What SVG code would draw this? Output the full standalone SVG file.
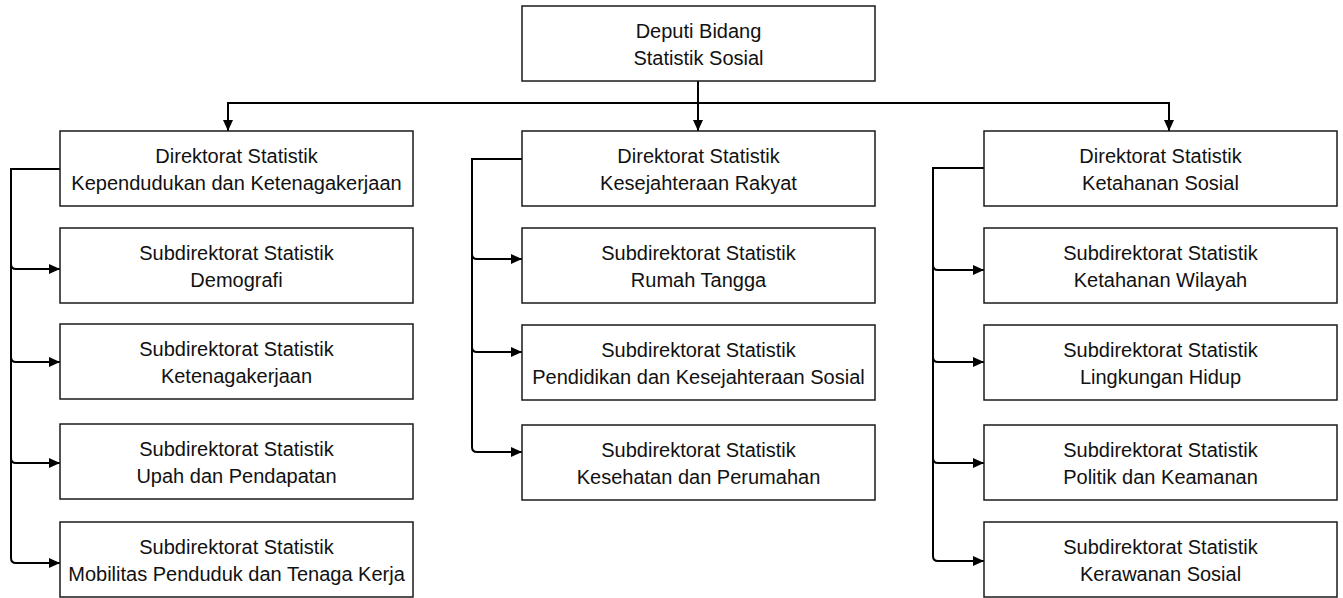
<svg xmlns="http://www.w3.org/2000/svg" width="1343" height="598" viewBox="0 0 1343 598">
<defs>
<style>
.box{fill:#fff;stroke:#1a1a1a;stroke-width:1.5}
.t{font-family:"Liberation Sans",Arial,sans-serif;font-size:20px;fill:#111;text-anchor:middle}
.c{fill:none;stroke:#000;stroke-width:2}
</style>
<marker id="ah" markerUnits="userSpaceOnUse" markerWidth="12" markerHeight="11" refX="11" refY="5" orient="auto">
<path d="M0,0 L11,5 L0,10 Z" fill="#000"/>
</marker>
</defs>
<rect width="1343" height="598" fill="#fff"/>
<g id="connectors">
<path class="c" d="M698,81 V131" marker-end="url(#ah)"/>
<path class="c" d="M228,131 V103 H1169 V131" marker-end="url(#ah)"/>
<path class="c" d="M228,103 V131" marker-end="url(#ah)"/>
<path class="c" d="M60,169 H11 V558 Q11,563 16,563 H60" marker-end="url(#ah)"/>
<path class="c" d="M11,264 Q11,269 16,269 H60" marker-end="url(#ah)"/>
<path class="c" d="M11,357 Q11,362 16,362 H60" marker-end="url(#ah)"/>
<path class="c" d="M11,458 Q11,463 16,463 H60" marker-end="url(#ah)"/>
<path class="c" d="M522,159 H472 V447 Q472,452 477,452 H522" marker-end="url(#ah)"/>
<path class="c" d="M472,254 Q472,259 477,259 H522" marker-end="url(#ah)"/>
<path class="c" d="M472,347 Q472,352 477,352 H522" marker-end="url(#ah)"/>
<path class="c" d="M984,168 H933 V556 Q933,561 938,561 H984" marker-end="url(#ah)"/>
<path class="c" d="M933,265 Q933,270 938,270 H984" marker-end="url(#ah)"/>
<path class="c" d="M933,357 Q933,362 938,362 H984" marker-end="url(#ah)"/>
<path class="c" d="M933,458 Q933,463 938,463 H984" marker-end="url(#ah)"/>
</g>
<g id="deputi"><rect class="box" x="522" y="6" width="353" height="75"/><text class="t" x="698.5" y="38">Deputi Bidang</text><text class="t" x="698.5" y="65">Statistik Sosial</text></g>
<g id="dir-kependudukan"><rect class="box" x="60" y="131" width="353" height="75"/><text class="t" x="236.5" y="163">Direktorat Statistik</text><text class="t" x="236.5" y="190">Kependudukan dan Ketenagakerjaan</text></g>
<g id="sub-demografi"><rect class="box" x="60" y="228" width="353" height="75"/><text class="t" x="236.5" y="260">Subdirektorat Statistik</text><text class="t" x="236.5" y="287">Demografi</text></g>
<g id="sub-ketenagakerjaan"><rect class="box" x="60" y="324" width="353" height="75"/><text class="t" x="236.5" y="356">Subdirektorat Statistik</text><text class="t" x="236.5" y="383">Ketenagakerjaan</text></g>
<g id="sub-upah"><rect class="box" x="60" y="424" width="353" height="75"/><text class="t" x="236.5" y="456">Subdirektorat Statistik</text><text class="t" x="236.5" y="483">Upah dan Pendapatan</text></g>
<g id="sub-mobilitas"><rect class="box" x="60" y="522" width="353" height="75"/><text class="t" x="236.5" y="554">Subdirektorat Statistik</text><text class="t" x="236.5" y="581">Mobilitas Penduduk dan Tenaga Kerja</text></g>
<g id="dir-kesra"><rect class="box" x="522" y="131" width="353" height="75"/><text class="t" x="698.5" y="163">Direktorat Statistik</text><text class="t" x="698.5" y="190">Kesejahteraan Rakyat</text></g>
<g id="sub-rumahtangga"><rect class="box" x="522" y="228" width="353" height="75"/><text class="t" x="698.5" y="260">Subdirektorat Statistik</text><text class="t" x="698.5" y="287">Rumah Tangga</text></g>
<g id="sub-pendidikan"><rect class="box" x="522" y="325" width="353" height="75"/><text class="t" x="698.5" y="357">Subdirektorat Statistik</text><text class="t" x="698.5" y="384">Pendidikan dan Kesejahteraan Sosial</text></g>
<g id="sub-kesehatan"><rect class="box" x="522" y="425" width="353" height="75"/><text class="t" x="698.5" y="457">Subdirektorat Statistik</text><text class="t" x="698.5" y="484">Kesehatan dan Perumahan</text></g>
<g id="dir-ketahanan"><rect class="box" x="984" y="131" width="353" height="75"/><text class="t" x="1160.5" y="163">Direktorat Statistik</text><text class="t" x="1160.5" y="190">Ketahanan Sosial</text></g>
<g id="sub-wilayah"><rect class="box" x="984" y="228" width="353" height="75"/><text class="t" x="1160.5" y="260">Subdirektorat Statistik</text><text class="t" x="1160.5" y="287">Ketahanan Wilayah</text></g>
<g id="sub-lingkungan"><rect class="box" x="984" y="325" width="353" height="75"/><text class="t" x="1160.5" y="357">Subdirektorat Statistik</text><text class="t" x="1160.5" y="384">Lingkungan Hidup</text></g>
<g id="sub-politik"><rect class="box" x="984" y="425" width="353" height="75"/><text class="t" x="1160.5" y="457">Subdirektorat Statistik</text><text class="t" x="1160.5" y="484">Politik dan Keamanan</text></g>
<g id="sub-kerawanan"><rect class="box" x="984" y="522" width="353" height="75"/><text class="t" x="1160.5" y="554">Subdirektorat Statistik</text><text class="t" x="1160.5" y="581">Kerawanan Sosial</text></g>
</svg>
